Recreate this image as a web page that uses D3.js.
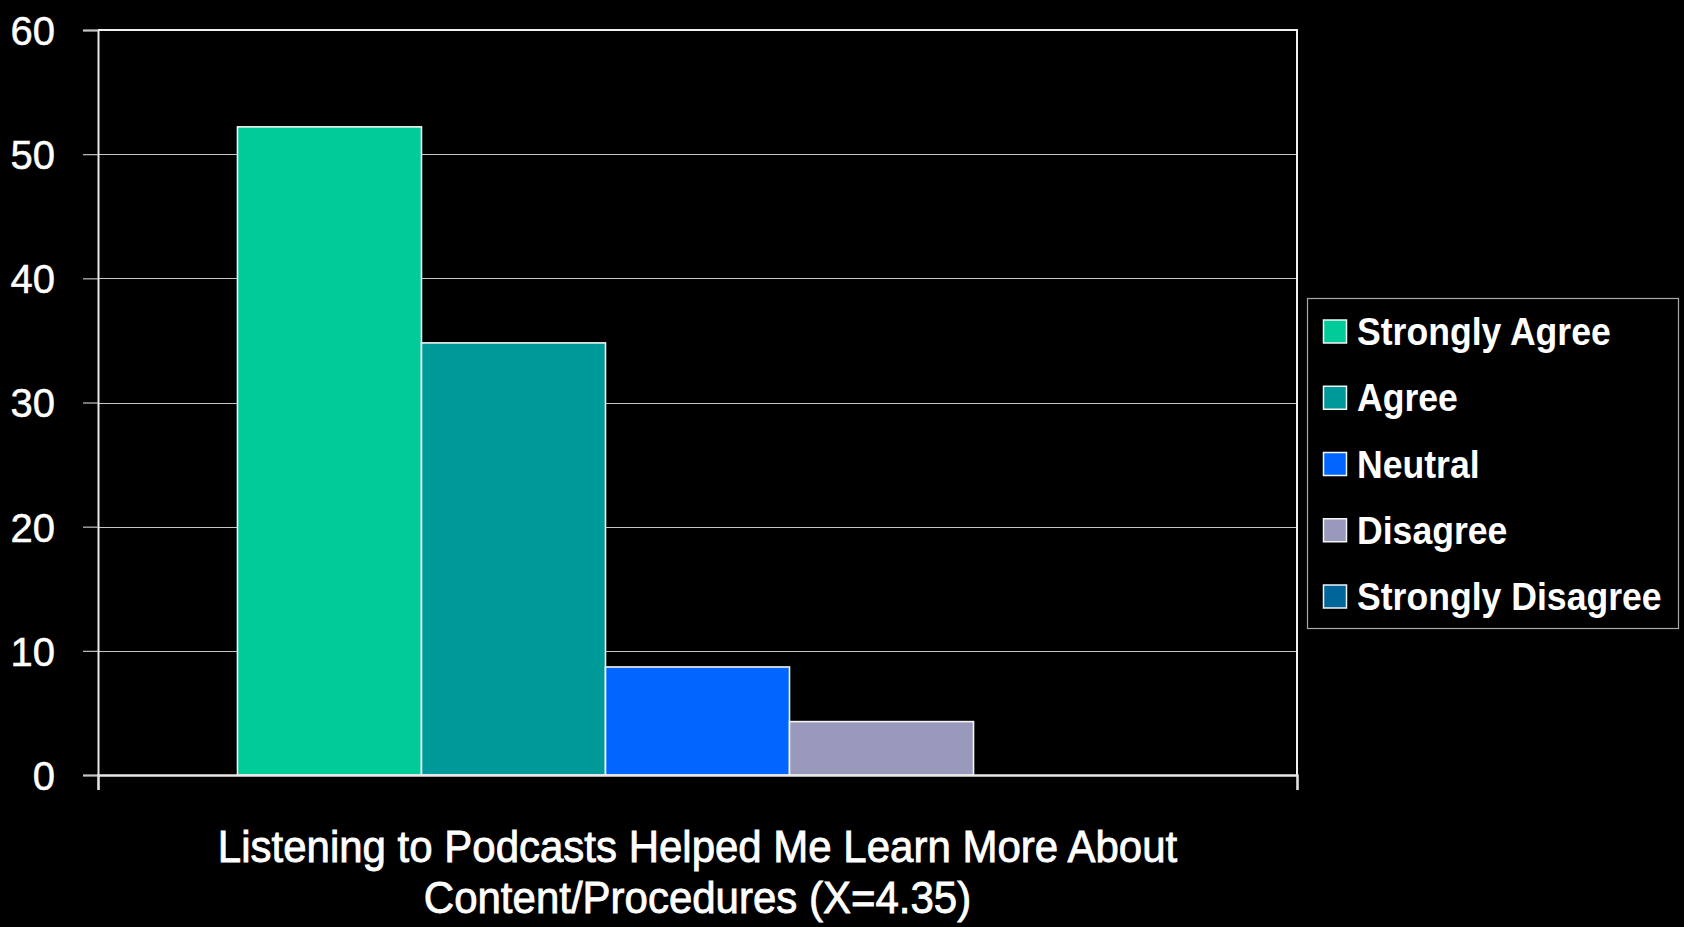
<!DOCTYPE html>
<html>
<head>
<meta charset="utf-8">
<script src="https://cdn.jsdelivr.net/npm/d3@7"></script>
<style>
  html, body { margin: 0; padding: 0; background: #000; }
  svg { display: block; }
</style>
</head>
<body>
<svg id="chart" width="1684" height="927"></svg>
<script>
// ---- data ----
const categories = ["Listening to Podcasts Helped Me Learn More About Content/Procedures (X=4.35)"];
const categoryLines = ["Listening to Podcasts Helped Me Learn More About", "Content/Procedures (X=4.35)"];
const series = ["Strongly Agree", "Agree", "Neutral", "Disagree", "Strongly Disagree"];
const values = [52.2, 34.8, 8.7, 4.3, 0];
const colors = ["#00CC99", "#009999", "#0066FF", "#9999BB", "#006699"];
const yTicks = [0, 10, 20, 30, 40, 50, 60];

// ---- layout ----
const svg = d3.select("#chart");
const plot = { left: 98, right: 1297, top: 30, bottom: 775 };

const y = d3.scaleLinear().domain([0, 60]).range([plot.bottom, plot.top]);
const x0 = d3.scaleBand().domain(categories).range([plot.left, plot.right])
  .paddingInner(0).paddingOuter(0.1516);
const x1 = d3.scaleBand().domain(series).range([0, x0.bandwidth()]).padding(0);
const color = d3.scaleOrdinal().domain(series).range(colors);

// gridlines
svg.append("g")
  .selectAll("line")
  .data(yTicks.filter(d => d > 0))
  .join("line")
  .attr("x1", plot.left).attr("x2", plot.right)
  .attr("y1", d => Math.round(y(d)) + 0.5).attr("y2", d => Math.round(y(d)) + 0.5)
  .attr("stroke", "#c4c4c4").attr("stroke-width", 1.2);

// y axis
const yAxis = d3.axisLeft(y).tickValues(yTicks).tickSize(15).tickPadding(28).tickFormat(d3.format("d"));
const gy = svg.append("g").attr("transform", `translate(${plot.left},0)`).call(yAxis);
gy.select(".domain").attr("stroke", "#e8e8e8").attr("stroke-width", 2);
gy.selectAll(".tick line").attr("stroke", "#c4c4c4").attr("stroke-width", 1.2);
gy.selectAll(".tick text")
  .attr("fill", "#fff")
  .attr("stroke", "#fff")
  .attr("stroke-width", 0.5)
  .style("font-family", "'Liberation Sans', Arial, sans-serif")
  .style("font-size", "40px")
  .attr("dy", "0.36em");

// frame: top and right
svg.append("line").attr("x1", plot.left).attr("x2", plot.right + 1)
  .attr("y1", plot.top).attr("y2", plot.top)
  .attr("stroke", "#f0f0f0").attr("stroke-width", 2);
svg.append("line").attr("x1", plot.right).attr("x2", plot.right)
  .attr("y1", plot.top).attr("y2", plot.bottom)
  .attr("stroke", "#f0f0f0").attr("stroke-width", 2);

// bars
const groups = svg.append("g")
  .selectAll("g")
  .data(categories)
  .join("g")
  .attr("transform", d => `translate(${x0(d)},0)`);

groups.selectAll("rect")
  .data(series.map((s, i) => ({ s, v: values[i] })))
  .join("rect")
  .attr("x", d => x1(d.s))
  .attr("width", x1.bandwidth())
  .attr("y", d => y(d.v))
  .attr("height", d => y(0) - y(d.v))
  .attr("fill", d => color(d.s))
  .attr("stroke", d => d.v > 0 ? "#f4f4f4" : "none")
  .attr("stroke-width", 1.6);

// x axis
const xAxisScale = d3.scalePoint().domain(["a", "b"]).range([plot.left, plot.right]);
const gx = svg.append("g").attr("transform", `translate(0,${plot.bottom})`)
  .call(d3.axisBottom(xAxisScale).tickSize(15).tickFormat(""));
gx.select(".domain").attr("stroke", "#e8e8e8").attr("stroke-width", 2.4);
gx.selectAll(".tick line").attr("stroke", "#e0e0e0").attr("stroke-width", 1.5);

// category label (two lines)
const cx = x0(categories[0]) + x0.bandwidth() / 2;
svg.append("g")
  .selectAll("text")
  .data(categoryLines)
  .join("text")
  .attr("transform", (d, i) => `translate(${cx},${862 + i * 51}) scale(1,1.06)`)
  .attr("text-anchor", "middle")
  .attr("fill", "#fff")
  .attr("stroke", "#fff")
  .attr("stroke-width", 0.8)
  .style("font-family", "'Liberation Sans', Arial, sans-serif")
  .style("font-size", "42px")
  .text(d => d);

// legend
const legend = svg.append("g");
legend.append("rect")
  .attr("x", 1307.5).attr("y", 298.5)
  .attr("width", 371).attr("height", 330)
  .attr("fill", "#000").attr("stroke", "#a8a8a8").attr("stroke-width", 1.2);

const rowY = d3.scaleLinear().domain([0, series.length - 1]).range([331.5, 596.5]);
const items = legend.selectAll("g.item")
  .data(series)
  .join("g").attr("class", "item")
  .attr("transform", (d, i) => `translate(0,${rowY(i)})`);

items.append("rect")
  .attr("x", 1323.5).attr("y", -11.5)
  .attr("width", 23).attr("height", 23)
  .attr("fill", d => color(d))
  .attr("stroke", "#f4f4f4").attr("stroke-width", 1.5);

items.append("text")
  .attr("transform", "translate(1357,13.5) scale(1,1.07)")
  .attr("fill", "#fff")
  .style("font-family", "'Liberation Sans', Arial, sans-serif")
  .style("font-weight", "bold")
  .style("font-size", "35.6px")
  .text(d => d);
</script>
</body>
</html>
